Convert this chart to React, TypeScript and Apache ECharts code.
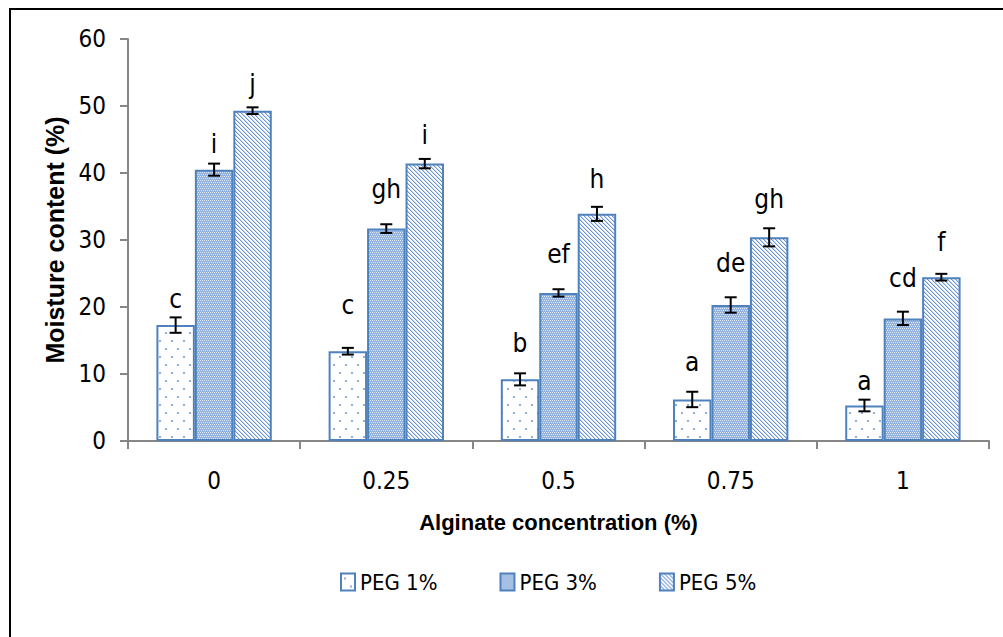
import React, { useEffect, useRef } from "react";
import * as echarts from "echarts";

// ---- data ----
const categories = ["0", "0.25", "0.5", "0.75", "1"];
const seriesNames = ["PEG 1%", "PEG 3%", "PEG 5%"];
const peg1 = [17.3, 13.4, 9.2, 6.2, 5.3];
const peg3 = [40.5, 31.7, 22.1, 20.3, 18.3];
const peg5 = [49.3, 41.4, 33.9, 30.4, 24.45];
const peg1Err = [1.15, 0.5, 0.9, 1.15, 0.87];
const peg3Err = [0.9, 0.65, 0.55, 1.15, 1.0];
const peg5Err = [0.5, 0.7, 1.05, 1.35, 0.5];
const peg1Letters = ["c", "c", "b", "a", "a"];
const peg3Letters = ["i", "gh", "ef", "de", "cd"];
const peg5Letters = ["j", "i", "h", "gh", "f"];
const yTicks = { min: 0, max: 60, interval: 10 };

// ---- layout (pixel gaps from error-bar cap to letter baseline) ----
const LETTER_GAP = [
  [11, 36, 23, 23, 12],
  [13, 28, 28, 27, 27],
  [16, 17, 21, 22, 25],
];

const NARROW = "'Liberation Sans Narrow', 'Arial Narrow', 'DejaVu Sans Condensed', sans-serif";
const BOLDFAM = "'Liberation Sans', Arial, sans-serif";
const BLUE = "#4f81bd";

function makeTile(w: number, h: number, draw: (ctx: CanvasRenderingContext2D) => void) {
  const c = document.createElement("canvas");
  c.width = w;
  c.height = h;
  const ctx = c.getContext("2d")!;
  draw(ctx);
  return { image: c.toDataURL(), repeat: "repeat", imageWidth: w, imageHeight: h } as any;
}

function patterns() {
  const dots = makeTile(12, 16, (ctx) => {
    ctx.fillStyle = "#ffffff";
    ctx.fillRect(0, 0, 12, 16);
    ctx.fillStyle = "#8fb0dd";
    ctx.fillRect(3, 4, 2, 2);
    ctx.fillRect(9, 12, 2, 2);
  });
  const dense = makeTile(8, 8, (ctx) => {
    ctx.fillStyle = "#93b2de";
    ctx.fillRect(0, 0, 8, 8);
    ctx.fillStyle = "#dfe8f5";
    for (let y = 0; y < 8; y += 2) {
      for (let x = (y / 2) % 2; x < 8; x += 2) ctx.fillRect(x, y, 1, 1);
    }
  });
  const hatch = makeTile(8, 8, (ctx) => {
    ctx.fillStyle = "#ffffff";
    ctx.fillRect(0, 0, 8, 8);
    for (let i = 0; i < 8; i++) {
      for (let off = 0; off < 8; off += 4) {
        ctx.fillStyle = "#6a94cd";
        ctx.fillRect((i + off) % 8, i, 1, 1);
        ctx.fillStyle = "#c6d7ef";
        ctx.fillRect((i + off + 1) % 8, i, 1, 1);
      }
    }
  });
  return [dots, dense, hatch];
}

export default function App() {
  const ref = useRef<HTMLDivElement>(null);
  useEffect(() => {
    if (!ref.current) return;
    const chart = echarts.init(ref.current, undefined, { renderer: "svg" });
    const fills = patterns();
    const values = [peg1, peg3, peg5];
    const errs = [peg1Err, peg3Err, peg5Err];
    const letters = [peg1Letters, peg3Letters, peg5Letters];
    const CAT_GAP = 0.33;

    const barSeries = seriesNames.map((name, k) => ({
      name,
      type: "bar",
      data: values[k],
      barGap: "0%",
      barCategoryGap: "33%",
      itemStyle: { color: fills[k], borderColor: BLUE, borderWidth: 2 },
      z: 2,
    }));

    const errSeries = seriesNames.map((name, k) => ({
      name: name + " err",
      type: "custom",
      z: 5,
      clip: false,
      data: categories.map((_, i) => [i, values[k][i], errs[k][i]]),
      encode: { x: 0, y: 1 },
      renderItem: (params: any, api: any) => {
        const i = api.value(0);
        const v = api.value(1);
        const e = api.value(2);
        const band = api.size([1, 0])[0];
        const barW = (band * (1 - CAT_GAP)) / 3;
        const x = api.coord([i, v])[0] + (k - 1) * barW;
        const top = api.coord([i, v + e])[1];
        const bot = api.coord([i, v - e])[1];
        const cap = 6;
        const st = { stroke: "#000", lineWidth: 2 };
        return {
          type: "group",
          children: [
            { type: "line", shape: { x1: x, y1: top, x2: x, y2: bot }, style: st },
            { type: "line", shape: { x1: x - cap, y1: top, x2: x + cap, y2: top }, style: st },
            { type: "line", shape: { x1: x - cap, y1: bot, x2: x + cap, y2: bot }, style: st },
            {
              type: "text",
              x,
              y: top - LETTER_GAP[k][i] + 6,
              style: {
                text: letters[k][i],
                textAlign: "center",
                textVerticalAlign: "bottom",
                fontSize: 26,
                fontFamily: NARROW,
                fill: "#000",
              },
            },
          ],
        };
      },
    }));

    chart.setOption({
      animation: false,
      backgroundColor: "#ffffff",
      graphic: [
        {
          type: "rect",
          silent: true,
          z: 100,
          shape: { x: 10, y: 9, width: 1200, height: 1000 },
          style: { fill: "none", stroke: "#000", lineWidth: 2 },
        },
      ],
      grid: { left: 128, right: 14, top: 39, bottom: 196, containLabel: false },
      legend: {
        data: seriesNames,
        left: 335,
        top: 566,
        itemWidth: 14,
        itemHeight: 17,
        itemGap: 62,
        icon: "rect",
        textStyle: { fontSize: 22, color: "#000", fontFamily: NARROW },
      },
      xAxis: {
        type: "category",
        data: categories,
        name: "Alginate concentration (%)",
        nameLocation: "middle",
        nameGap: 70,
        nameTextStyle: { fontSize: 22, fontWeight: "bold", color: "#000", fontFamily: BOLDFAM },
        axisLine: { lineStyle: { color: "#868686", width: 2 } },
        axisTick: { show: true, length: 8, lineStyle: { color: "#868686", width: 2 } },
        axisLabel: { fontSize: 24, color: "#000", margin: 28, fontFamily: NARROW },
      },
      yAxis: {
        type: "value",
        min: yTicks.min,
        max: yTicks.max,
        interval: yTicks.interval,
        name: "Moisture content (%)",
        nameLocation: "middle",
        nameGap: 58,
        nameTextStyle: { fontSize: 25, fontWeight: "bold", color: "#000", fontFamily: BOLDFAM },
        splitLine: { show: false },
        axisLine: { show: true, lineStyle: { color: "#868686", width: 2 } },
        axisTick: { show: true, length: 8, lineStyle: { color: "#868686", width: 2 } },
        axisLabel: { fontSize: 24, color: "#000", margin: 22, fontFamily: NARROW },
      },
      series: [...barSeries, ...errSeries],
    });
    return () => chart.dispose();
  }, []);
  return (
    <div
      ref={ref}
      style={{ position: "absolute", left: 0, top: 0, width: 1003, height: 637 }}
    />
  );
}
